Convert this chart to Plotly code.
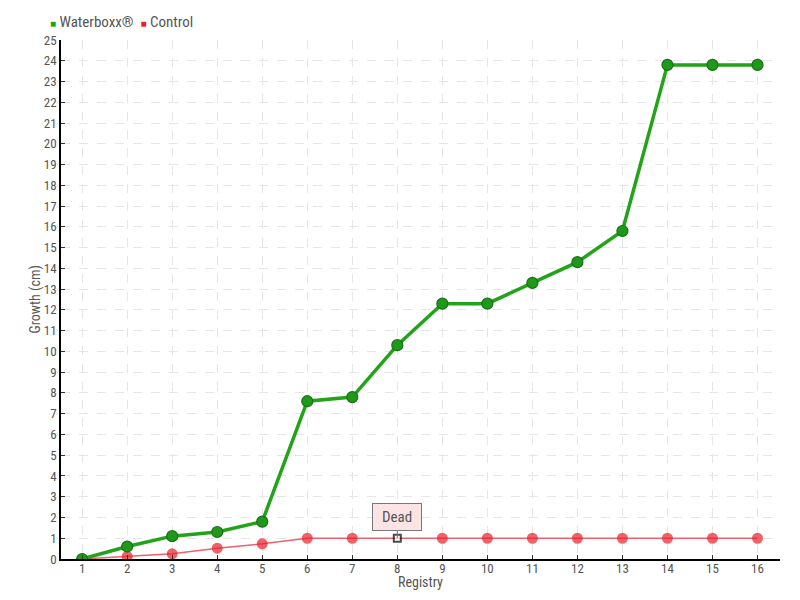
import plotly.graph_objects as go

registry = list(range(1, 17))
waterboxx = [0, 0.6, 1.1, 1.3, 1.8, 7.6, 7.8, 10.3, 12.3, 12.3, 13.3, 14.3, 15.8, 23.8, 23.8, 23.8]
control = [0, 0.12, 0.25, 0.52, 0.73, 1, 1, 1, 1, 1, 1, 1, 1, 1, 1, 1]
dead_at = 8
y_ticks = list(range(0, 26))

FONT = "Liberation Sans Narrow, Roboto Condensed, sans-serif"
GREEN = "#22a31a"
RED = "#e8202a"
TEXT = "#555555"

ctrl_symbols = ["square" if r == dead_at else "circle" for r in registry]
ctrl_colors = ["white" if r == dead_at else RED for r in registry]
ctrl_lines = ["black" if r == dead_at else RED for r in registry]
ctrl_sizes = [7 if r == dead_at else 9 for r in registry]

fig = go.Figure()

fig.add_trace(
    go.Scatter(
        x=registry,
        y=control,
        name="Control",
        mode="lines+markers",
        line=dict(color="#f0606c", width=1.5),
        marker=dict(
            symbol=ctrl_symbols,
            size=ctrl_sizes,
            color=ctrl_colors,
            line=dict(color=ctrl_lines, width=2),
        ),
    )
)

fig.add_trace(
    go.Scatter(
        x=registry,
        y=waterboxx,
        name="Waterboxx®",
        mode="lines+markers",
        line=dict(color=GREEN, width=3.5),
        marker=dict(size=11, color="#1f9a18", line=dict(color="#17701a", width=1.2)),
    )
)

fig.add_annotation(
    x=dead_at,
    y=control[dead_at - 1],
    text="Dead",
    showarrow=True,
    arrowhead=0,
    arrowwidth=1,
    arrowcolor="#777777",
    ax=0,
    ay=-21,
    width=40,
    height=18,
    bgcolor="#fde4e4",
    bordercolor="#777777",
    borderwidth=1,
    borderpad=4,
    font=dict(family=FONT, size=15, color=TEXT),
)

# compact legend drawn as text, with small square swatches
legend_text = (
    f'<span style="color:{GREEN};font-size:10px">■</span> Waterboxx®&nbsp;&nbsp;'
    f'<span style="color:{RED};font-size:10px">■</span> Control'
)
fig.add_annotation(
    xref="paper",
    yref="paper",
    x=-0.018,
    y=1.035,
    xanchor="left",
    yanchor="middle",
    text=legend_text,
    showarrow=False,
    font=dict(family=FONT, size=15, color=TEXT),
)

# axis titles placed as in the reference
fig.add_annotation(
    xref="paper",
    yref="paper",
    x=-0.036,
    y=0.5,
    xanchor="center",
    yanchor="middle",
    textangle=-90,
    text="Growth (cm)",
    showarrow=False,
    font=dict(family=FONT, size=14, color=TEXT),
)
fig.add_annotation(
    xref="paper",
    yref="paper",
    x=0.5,
    y=-0.0445,
    xanchor="center",
    yanchor="middle",
    text="Registry",
    showarrow=False,
    font=dict(family=FONT, size=14, color=TEXT),
)

fig.update_layout(
    width=800,
    height=600,
    margin=dict(l=61, r=20, t=40, b=41, autoexpand=False),
    plot_bgcolor="white",
    paper_bgcolor="white",
    font=dict(family=FONT, size=13, color=TEXT),
    showlegend=False,
)

axis_style = dict(
    showline=True,
    linecolor="black",
    linewidth=1.5,
    ticks="inside",
    ticklen=4,
    tickcolor="#333333",
    showgrid=True,
    gridcolor="#e6e6e6",
    griddash="dash",
    zeroline=False,
    tickfont=dict(size=13),
)
fig.update_xaxes(range=[0.53, 16.5], tickvals=registry, ticklabelstandoff=-3, **axis_style)
fig.update_yaxes(range=[0, 25], tickvals=y_ticks, **axis_style)

fig.write_html(
    "out.html",
    config={"displayModeBar": False},
    post_script="document.body.style.margin='0';",
)
